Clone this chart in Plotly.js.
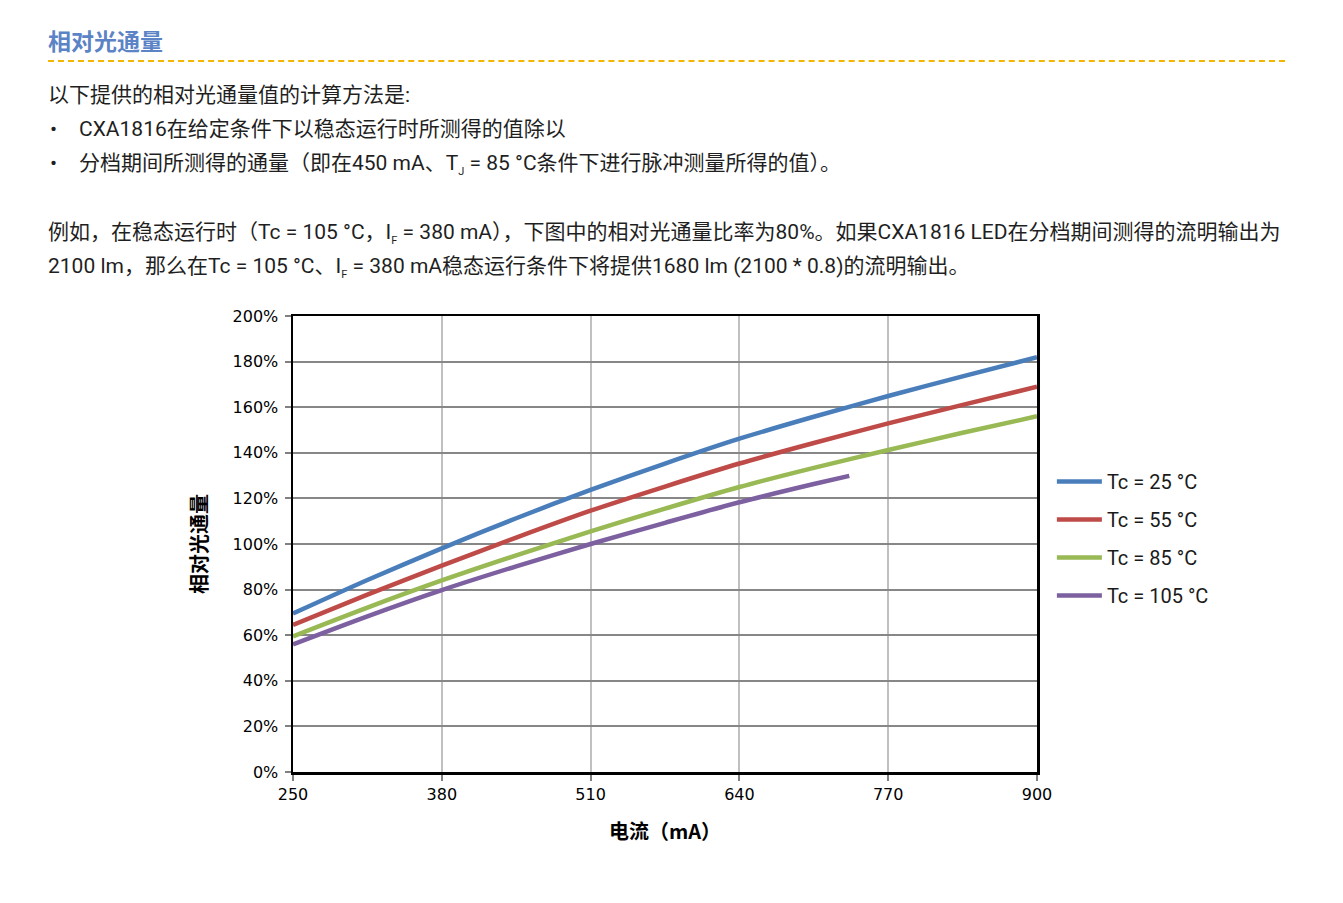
<!DOCTYPE html>
<html><head><meta charset="utf-8">
<script src="https://cdn.plot.ly/plotly-3.0.1.min.js"></script>
<style>
body{margin:0;background:#fff;}
#wrap{position:relative;width:1343px;height:903px;}
#chart{position:absolute;left:0;top:0;width:1343px;height:903px;}
.txt{position:absolute;font-family:Roboto,"Noto Sans CJK SC",sans-serif;color:#1f1f1f;font-size:21px;white-space:nowrap;line-height:34px;z-index:2;}
#h1{position:absolute;left:48px;top:27px;font-family:Roboto,"Noto Sans CJK SC",sans-serif;font-weight:bold;font-size:23px;color:#5b83c6;z-index:2;line-height:32px;}
#dash{position:absolute;left:48px;top:60px;width:1237px;border-top:2px dashed #f2b600;z-index:2;}
sub{font-size:11px;vertical-align:-5px;line-height:0;}
.b{position:absolute;left:2px;top:0;}
</style></head>
<body><div id="wrap">
<div id="chart"></div>
<div id="h1">相对光通量</div>
<div id="dash"></div>
<div class="txt" style="left:48px;top:78px;">以下提供的相对光通量值的计算方法是:</div>
<div class="txt" style="left:48px;top:112px;"><span class="b">•</span><span style="margin-left:31px">CXA1816在给定条件下以稳态运行时所测得的值除以</span></div>
<div class="txt" style="left:48px;top:146px;"><span class="b">•</span><span style="margin-left:31px">分档期间所测得的通量（即在450 mA、T<sub>J</sub> = 85 °C条件下进行脉冲测量所得的值）。</span></div>
<div class="txt" style="left:48px;top:215px;">例如，在稳态运行时（Tc = 105 °C，I<sub>F</sub> = 380 mA），下图中的相对光通量比率为80%。如果CXA1816 LED在分档期间测得的流明输出为</div>
<div class="txt" style="left:48px;top:249px;">2100 lm，那么在Tc = 105 °C、I<sub>F</sub> = 380 mA稳态运行条件下将提供1680 lm (2100 * 0.8)的流明输出。</div>
</div>
<script>
const current = [250, 315, 380, 445, 510, 575, 640, 705, 770, 835, 900];
const currentPurple = [250, 315, 380, 445, 510, 575, 640, 705, 736];
const tc25 = [69.5, 84.2, 98.1, 111.3, 123.7, 135.3, 146.2, 155.8, 164.9, 173.5, 181.9];
const tc55 = [64.5, 77.8, 90.5, 102.8, 114.6, 125.2, 135.3, 144.3, 152.9, 161.0, 169.0];
const tc85 = [59.5, 72.1, 84.0, 95.0, 105.5, 115.5, 125.0, 133.4, 141.2, 148.8, 156.0];
const tc105 = [56.0, 68.3, 79.8, 90.2, 100.0, 109.3, 118.3, 126.3, 129.9];
const seriesNames = ['Tc = 25 °C', 'Tc = 55 °C', 'Tc = 85 °C', 'Tc = 105 °C'];
const colors = ['#4a7ebb', '#be4b48', '#98b954', '#7d60a0'];
const xTicks = [250, 380, 510, 640, 770, 900];
const yTicks = [0, 20, 40, 60, 80, 100, 120, 140, 160, 180, 200];

const ys = [tc25, tc55, tc85, tc105];
const xs = [current, current, current, currentPurple];
const traces = ys.map((y, i) => ({
  x: xs[i], y: y, type: 'scatter', mode: 'lines', name: seriesNames[i],
  legendgroup: 'g' + i,
  line: {color: colors[i], width: 4.5, shape: 'spline', smoothing: 0.8}
}));

const layout = {
  width: 1343, height: 903,
  margin: {l: 293, r: 306, t: 316, b: 131},
  paper_bgcolor: '#ffffff', plot_bgcolor: '#ffffff',
  font: {family: '"DejaVu Sans", "Noto Sans CJK SC", sans-serif', color: '#000'},
  showlegend: true,
  legend: {x: 1.02, xanchor: 'left', y: 0.68, yanchor: 'top', traceorder: 'grouped', tracegroupgap: 9,
    itemwidth: 45,
    font: {family: 'Roboto, "Noto Sans CJK SC", sans-serif', size: 20, color: '#1a1a1a'}, bgcolor: 'rgba(0,0,0,0)'},
  xaxis: {
    range: [250, 900], tickvals: xTicks, ticktext: xTicks.map(String),
    showgrid: true, gridcolor: '#c0c0c0', gridwidth: 2,
    showline: true, linecolor: '#000', linewidth: 2.5, mirror: true,
    ticks: 'outside', ticklen: 6, tickcolor: '#808080', tickwidth: 2,
    tickfont: {size: 16, family: '"DejaVu Sans", sans-serif'},
    zeroline: false, automargin: false,
    title: {text: '电流（mA）', font: {size: 20, family: '"Noto Sans CJK SC", sans-serif', weight: 'bold'}, standoff: 23}
  },
  yaxis: {
    range: [0, 200], tickvals: yTicks, ticktext: yTicks.map(v => v + '%'),
    showgrid: true, gridcolor: '#878787', gridwidth: 2,
    showline: true, linecolor: '#000', linewidth: 2.5, mirror: true,
    ticks: 'outside', ticklen: 6, tickcolor: '#808080', tickwidth: 2,
    tickfont: {size: 16, family: '"DejaVu Sans", sans-serif'},
    ticklabelstandoff: 3,
    zeroline: false, automargin: false,
    title: {text: '相对光通量', font: {size: 20, family: '"Noto Sans CJK SC", sans-serif', weight: 'bold'}, standoff: 20}
  }
};
Plotly.newPlot('chart', traces, layout, {displayModeBar: false, staticPlot: true});
</script>
</body></html>
